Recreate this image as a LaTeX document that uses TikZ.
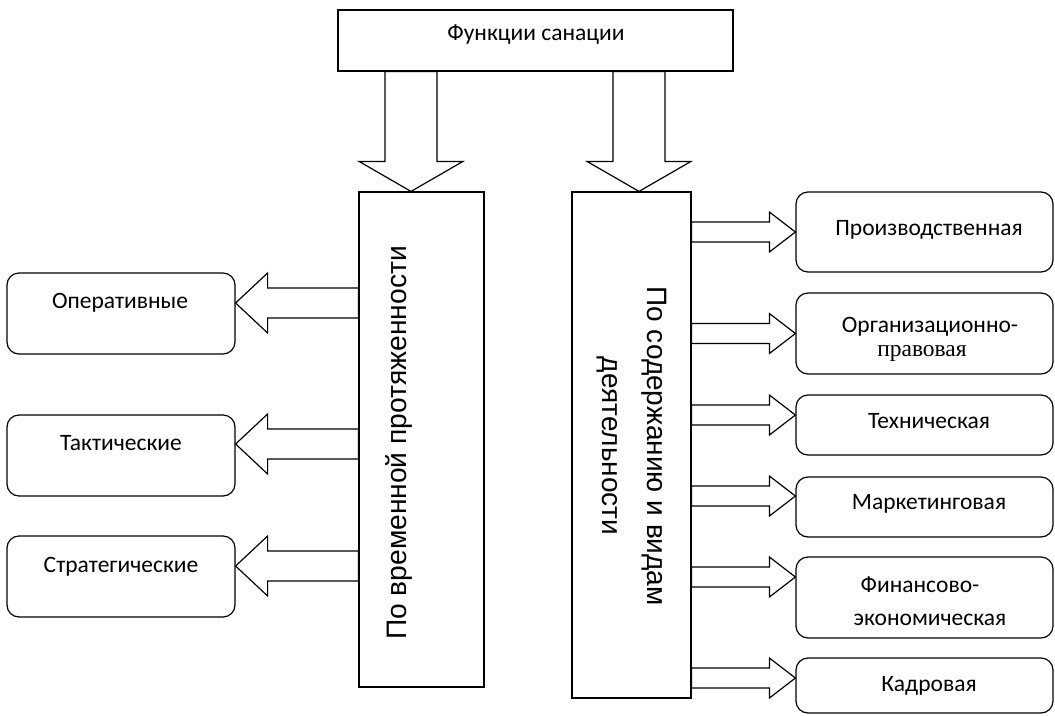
\documentclass[tikz,border=0pt]{standalone}
\usepackage{fontspec}
\usetikzlibrary{calc}
\newfontfamily\boxfont{Carlito}
\newfontfamily\vfont{Liberation Sans}
\newfontfamily\serfont{Liberation Serif}
\newcommand\hblock[5]{\draw[blk] let \p1=(#1), \p2=(#2) in (\x1,\y1) -- ({\x1+#3},{\y1+#4}) -- ({\x1+#3},{\y1+#5}) -- (\x2,{\y1+#5}) -- (\x2,{\y1-#5}) -- ({\x1+#3},{\y1-#5}) -- ({\x1+#3},{\y1-#4}) -- cycle;}
\newcommand\vblock[5]{\draw[blk] let \p1=(#1), \p2=(#2) in (\x1,\y1) -- ({\x1+#4},{\y1+#3}) -- ({\x1+#5},{\y1+#3}) -- ({\x1+#5},\y2) -- ({\x1-#5},\y2) -- ({\x1-#5},{\y1+#3}) -- ({\x1-#4},{\y1+#3}) -- cycle;}
\begin{document}
\begin{tikzpicture}[x=1pt,y=-1pt,
  box/.style={draw, line width=1.2pt, rectangle, inner sep=0pt},
  rbox/.style={draw, line width=1.2pt, rounded corners=12pt, inner sep=0pt},
  blk/.style={draw, line width=1.2pt, line join=miter},
  lbl/.style={inner sep=0pt, anchor=base, font=\boxfont\fontsize{23.5}{28}\selectfont},
  lbl2/.style={inner sep=0pt, align=center, font=\boxfont\fontsize{23.5}{24}\selectfont},
  vtxt/.style={inner sep=0pt, font=\vfont\fontsize{28.2}{45}\selectfont},
  vtxtr/.style={inner sep=0pt, font=\vfont\fontsize{28}{45}\selectfont}]
\useasboundingbox (0,0) rectangle (1055,715);
% top
\node[box, minimum width=395pt, minimum height=61pt] (top) at (535.5,40.5) {};
\node[lbl] (top-t) at ($(top)+(0.5,-0.5)$) {Функции санации};
% tall boxes
\node[box, minimum width=125pt, minimum height=495pt] (L) at (421.5,439.5) {};
\node[box, minimum width=119pt, minimum height=506pt] (R) at (631.5,445) {};
\node[vtxt, rotate=90, anchor=base] (Lt) at (406,443) {По временной протяженности};
\node[vtxtr, rotate=-90, align=center] (Rt) at (632,446) {По содержанию и видам\\деятельности};
% left boxes
\node[rbox, minimum width=228pt, minimum height=81pt] (op) at (121,313.5) {};
\node[lbl] (op-t) at ($(op)+(-1,-5.5)$) {Оперативные};
\node[rbox, minimum width=228pt, minimum height=81pt] (tak) at (121,455.5) {};
\node[lbl] (tak-t) at ($(tak)+(0,-5.5)$) {Тактические};
\node[rbox, minimum width=228pt, minimum height=81pt] (str) at (121,576.5) {};
\node[lbl] (str-t) at ($(str)+(0,-4.5)$) {Стратегические};
% right boxes
\node[rbox, minimum width=257pt, minimum height=80pt] (pr) at (924.5,232) {};
\node[lbl] (pr-t) at ($(pr)+(4.5,3)$) {Производственная};
\node[rbox, minimum width=257pt, minimum height=81pt] (org) at (924.5,333.5) {};
\node[lbl2] (org-t) at ($(org)+(-2.5,5.4)$) {\hspace*{16pt}Организационно-\\{\serfont правовая}};
\node[rbox, minimum width=257pt, minimum height=60pt] (tech) at (924.5,425) {};
\node[lbl] (tech-t) at ($(tech)+(4.5,3)$) {Техническая};
\node[rbox, minimum width=257pt, minimum height=60pt] (mark) at (924.5,507) {};
\node[lbl] (mark-t) at ($(mark)+(4.5,2)$) {Маркетинговая};
\node[rbox, minimum width=257pt, minimum height=81pt] (fin) at (924.5,597.5) {};
\node[lbl] (fin-t1) at ($(fin)+(-4.5,-5.5)$) {Финансово-};
\node[lbl] (fin-t2) at ($(fin)+(5.5,27.5)$) {экономическая};
\node[rbox, minimum width=257pt, minimum height=55pt] (kad) at (924.5,685.5) {};
\node[lbl] (kad-t) at ($(kad)+(4.5,5.5)$) {Кадровая};
% down arrows
\coordinate (dL) at ([xshift=-10.5pt]L.north);
\coordinate (dR) at ([xshift=7.5pt]R.north);
\vblock{dL}{dL |- top.south}{30pt}{52pt}{26pt}
\vblock{dR}{dR |- top.south}{30pt}{52pt}{26pt}
% left arrows
\coordinate (aop) at ([yshift=10.5pt]op.east);
\coordinate (atak) at ([yshift=11.5pt]tak.east);
\coordinate (astr) at ([yshift=10.5pt]str.east);
\hblock{aop}{aop -| L.west}{32pt}{30pt}{15pt}
\hblock{atak}{atak -| L.west}{32pt}{30pt}{15pt}
\hblock{astr}{astr -| L.west}{32pt}{30pt}{15pt}
% right arrows
\coordinate (apr) at (pr.west);
\coordinate (aorg) at (org.west);
\coordinate (atech) at ([yshift=10pt]tech.west);
\coordinate (amark) at ([yshift=11pt]mark.west);
\coordinate (afin) at ([yshift=20.5pt]fin.west);
\coordinate (akad) at ([yshift=7.5pt]kad.west);
\foreach \t in {apr,aorg,atech,amark,afin,akad}{
  \hblock{\t}{\t -| R.east}{-26pt}{20pt}{10pt}
}
\end{tikzpicture}
\end{document}
